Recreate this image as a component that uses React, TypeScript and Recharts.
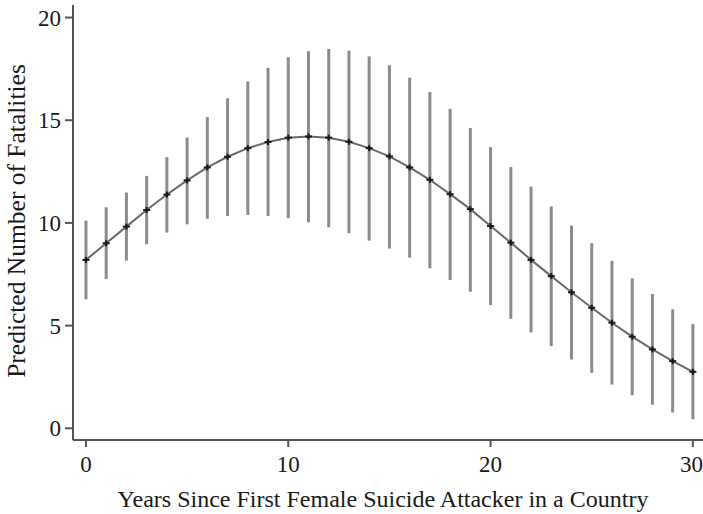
import React from "react";
import { ComposedChart, Line, XAxis, YAxis, ErrorBar } from "recharts";

const years = [0,1,2,3,4,5,6,7,8,9,10,11,12,13,14,15,16,17,18,19,20,21,22,23,24,25,26,27,28,29,30];
const predicted = [8.20,9.01,9.82,10.63,11.38,12.07,12.70,13.22,13.64,13.94,14.15,14.21,14.15,13.95,13.64,13.24,12.70,12.10,11.40,10.67,9.85,9.04,8.20,7.41,6.62,5.87,5.14,4.46,3.84,3.27,2.75];
const lower = [6.28,7.27,8.16,8.96,9.53,9.93,10.20,10.34,10.39,10.34,10.23,10.03,9.79,9.50,9.14,8.75,8.31,7.79,7.22,6.65,6.00,5.33,4.67,4.00,3.35,2.70,2.13,1.61,1.15,0.77,0.44];
const upper = [10.11,10.76,11.48,12.29,13.20,14.16,15.15,16.07,16.89,17.55,18.07,18.36,18.47,18.39,18.11,17.68,17.07,16.37,15.55,14.62,13.69,12.72,11.77,10.80,9.87,9.01,8.15,7.30,6.54,5.79,5.07];
const xTicks = [0, 10, 20, 30];
const yTicks = [0, 5, 10, 15, 20];

const data = years.map((x, i) => ({
  x,
  y: predicted[i],
  err: [predicted[i] - lower[i], upper[i] - predicted[i]],
}));

const FONT = "'Liberation Serif', 'Times New Roman', serif";

const PlusDot = (props: any) => {
  const { cx, cy } = props;
  if (cx == null || cy == null) return null;
  return (
    <g>
      <line x1={cx - 3.5} y1={cy} x2={cx + 3.5} y2={cy} stroke="#1a1a1a" strokeWidth={2} />
      <line x1={cx} y1={cy - 3} x2={cx} y2={cy + 3} stroke="#1a1a1a" strokeWidth={2} />
    </g>
  );
};

export default function App() {
  return (
    <div style={{ position: "absolute", left: 0, top: 0, width: 703, height: 514, background: "#fff" }}>
      <ComposedChart
        width={703}
        height={514}
        data={data}
        margin={{ top: 5, right: 0, bottom: 0, left: 0 }}
      >
        <XAxis
          type="number"
          dataKey="x"
          domain={[-0.64, 30.5]}
          ticks={xTicks}
          allowDataOverflow
          height={74}
          tickSize={7}
          tickMargin={9}
          stroke="#555"
          strokeWidth={2}
          tick={{ fill: "#1a1a1a", fontSize: 23, fontFamily: FONT }}
          tickLine={{ stroke: "#555", strokeWidth: 2 }}
          label={{
            content: () => (
              <text x={383} y={507} textAnchor="middle" fontSize={24} fontFamily={FONT} fill="#1a1a1a">
                Years Since First Female Suicide Attacker in a Country
              </text>
            ),
          }}
        />
        <YAxis
          type="number"
          domain={[-0.57, 20.61]}
          ticks={yTicks}
          allowDataOverflow
          width={73}
          tickSize={8}
          tickMargin={4}
          stroke="#555"
          strokeWidth={2}
          tick={{ fill: "#1a1a1a", fontSize: 23, fontFamily: FONT }}
          tickLine={{ stroke: "#555", strokeWidth: 2 }}
          label={{
            content: () => (
              <text
                x={25}
                y={221}
                transform="rotate(-90, 25, 221)"
                textAnchor="middle"
                fontSize={25.5}
                fontFamily={FONT}
                fill="#1a1a1a"
              >
                Predicted Number of Fatalities
              </text>
            ),
          }}
        />
        <Line
          dataKey="y"
          stroke="none"
          dot={false}
          activeDot={false}
          isAnimationActive={false}
        >
          <ErrorBar dataKey="err" direction="y" width={0} stroke="#8c8c8c" strokeWidth={3} />
        </Line>
        <Line
          dataKey="y"
          type="linear"
          stroke="#6a6a6a"
          strokeWidth={2}
          dot={<PlusDot />}
          activeDot={false}
          isAnimationActive={false}
        />
      </ComposedChart>
    </div>
  );
}
